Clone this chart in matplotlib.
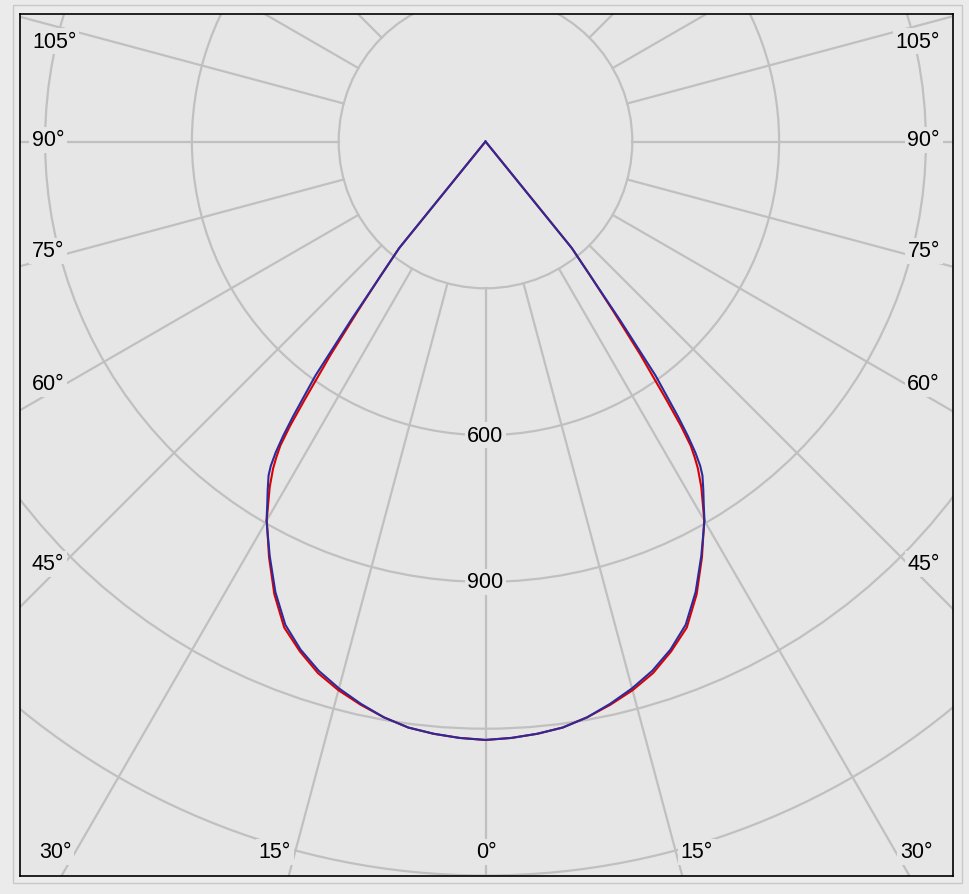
import numpy as np
import matplotlib
matplotlib.use("Agg")
import matplotlib.pyplot as plt
from matplotlib.patches import Circle, Rectangle

# luminous intensity (cd) against gamma angle (deg), two planes
gamma = [0, 2.5, 5, 7.5, 10, 12.5, 15, 17.5, 20, 22.5, 25, 27.5,
         30, 31, 32, 33, 33.5, 34, 34.5, 35, 36, 37, 38, 39, 40, 45, 60, 75, 90]
intensity_red = [1223, 1220, 1215, 1208, 1195, 1179, 1161, 1139, 1109, 1075, 1021, 958,
                 894, 862, 832, 797, 775, 750, 705, 645, 538, 432, 348, 280, 0, 0, 0, 0, 0]
intensity_blue = [1223, 1220, 1215, 1208, 1195, 1177, 1157, 1134, 1105, 1069, 1016, 955,
                  895, 866, 840, 814, 795, 767, 730, 685, 591, 455, 345, 280, 0, 0, 0, 0, 0]

ring_values = [300, 600, 900, 1200, 1500, 1800]
ring_labels = ["600", "900"]
spoke_step = 15

angle_labels = ["105°", "90°", "75°", "60°", "45°",
                "30°", "15°", "0°", "15°", "30°",
                "105°", "90°", "75°", "60°", "45°"]

BG = "#e6e6e6"
GRID = "#c0c0c0"
RED = "#dd0000"
BLUE = "#2b2b9c"

W, H = 969, 895
cx, cy = 485.5, 142.5          # pixel centre of the diagram
scale = 146.8 / 300            # px per cd
left, right, top, bottom = 19.5, 953.0, 14.5, 876.5


def mirror(g, v):
    g = np.radians(np.array(g, dtype=float))
    v = np.array(v, dtype=float)
    ang = np.concatenate([-g[::-1], g[1:]])
    val = np.concatenate([v[::-1], v[1:]])
    return val * np.sin(ang), -val * np.cos(ang)


plt.rcParams['font.family'] = ['Liberation Sans', 'DejaVu Sans']
fig = plt.figure(figsize=(W / 100, H / 100), dpi=100, facecolor="#ebebeb")
fig.patches.append(Rectangle((12.5 / W, 1 - 884 / H), (962 - 12.5) / W, (884 - 6) / H,
                             transform=fig.transFigure, fill=False,
                             edgecolor="#c8c8c8", linewidth=1.0, zorder=0))

ax = fig.add_axes([left / W, 1 - bottom / H, (right - left) / W, (bottom - top) / H])
ax.set_facecolor(BG)
ax.set_xlim((left - cx) / scale, (right - cx) / scale)
ax.set_ylim(-(bottom - cy) / scale, (cy - top) / scale)
ax.set_xticks([])
ax.set_yticks([])
for s in ax.spines.values():
    s.set_color("black")
    s.set_linewidth(1.2)

# grid: circles and spokes starting at the first ring
for r in ring_values:
    ax.add_patch(Circle((0, 0), r, fill=False, edgecolor=GRID, linewidth=1.6, zorder=1))
r0 = ring_values[0]
for a in np.radians(np.arange(0, 360, spoke_step)):
    ax.plot([r0 * np.sin(a), 4000 * np.sin(a)], [-r0 * np.cos(a), -4000 * np.cos(a)],
            color=GRID, linewidth=1.6, zorder=1)

xr, yr = mirror(gamma, intensity_red)
xb, yb = mirror(gamma, intensity_blue)
ax.plot(xr, yr, color=RED, linewidth=1.5, zorder=3, solid_joinstyle="round")
ax.plot(xb, yb, color=BLUE, linewidth=1.5, zorder=4, solid_joinstyle="round")

box = dict(boxstyle="square,pad=0.12", facecolor=BG, edgecolor="none")
for lab in ring_labels:
    ax.text(0, -float(lab), lab, ha="center", va="center", fontsize=15.5,
            bbox=box, zorder=5)

# angle labels around the frame (pixel positions)
label_pos = [(32, 42, "left"), (32, 141, "left"), (32, 252, "left"), (32, 385, "left"), (32, 565, "left"),
             (55, 853, "center"), (275, 853, "center"), (486, 853, "center"), (697, 853, "center"), (916, 853, "center"),
             (940, 42, "right"), (940, 141, "right"), (940, 252, "right"), (940, 385, "right"), (940, 565, "right")]
for txt, (px, py, ha) in zip(angle_labels, label_pos):
    fig.text(px / W, 1 - py / H, txt, ha=ha, va="center", fontsize=15.5,
             bbox=box, zorder=6)

fig.savefig("out.png", dpi=100, facecolor=fig.get_facecolor())
